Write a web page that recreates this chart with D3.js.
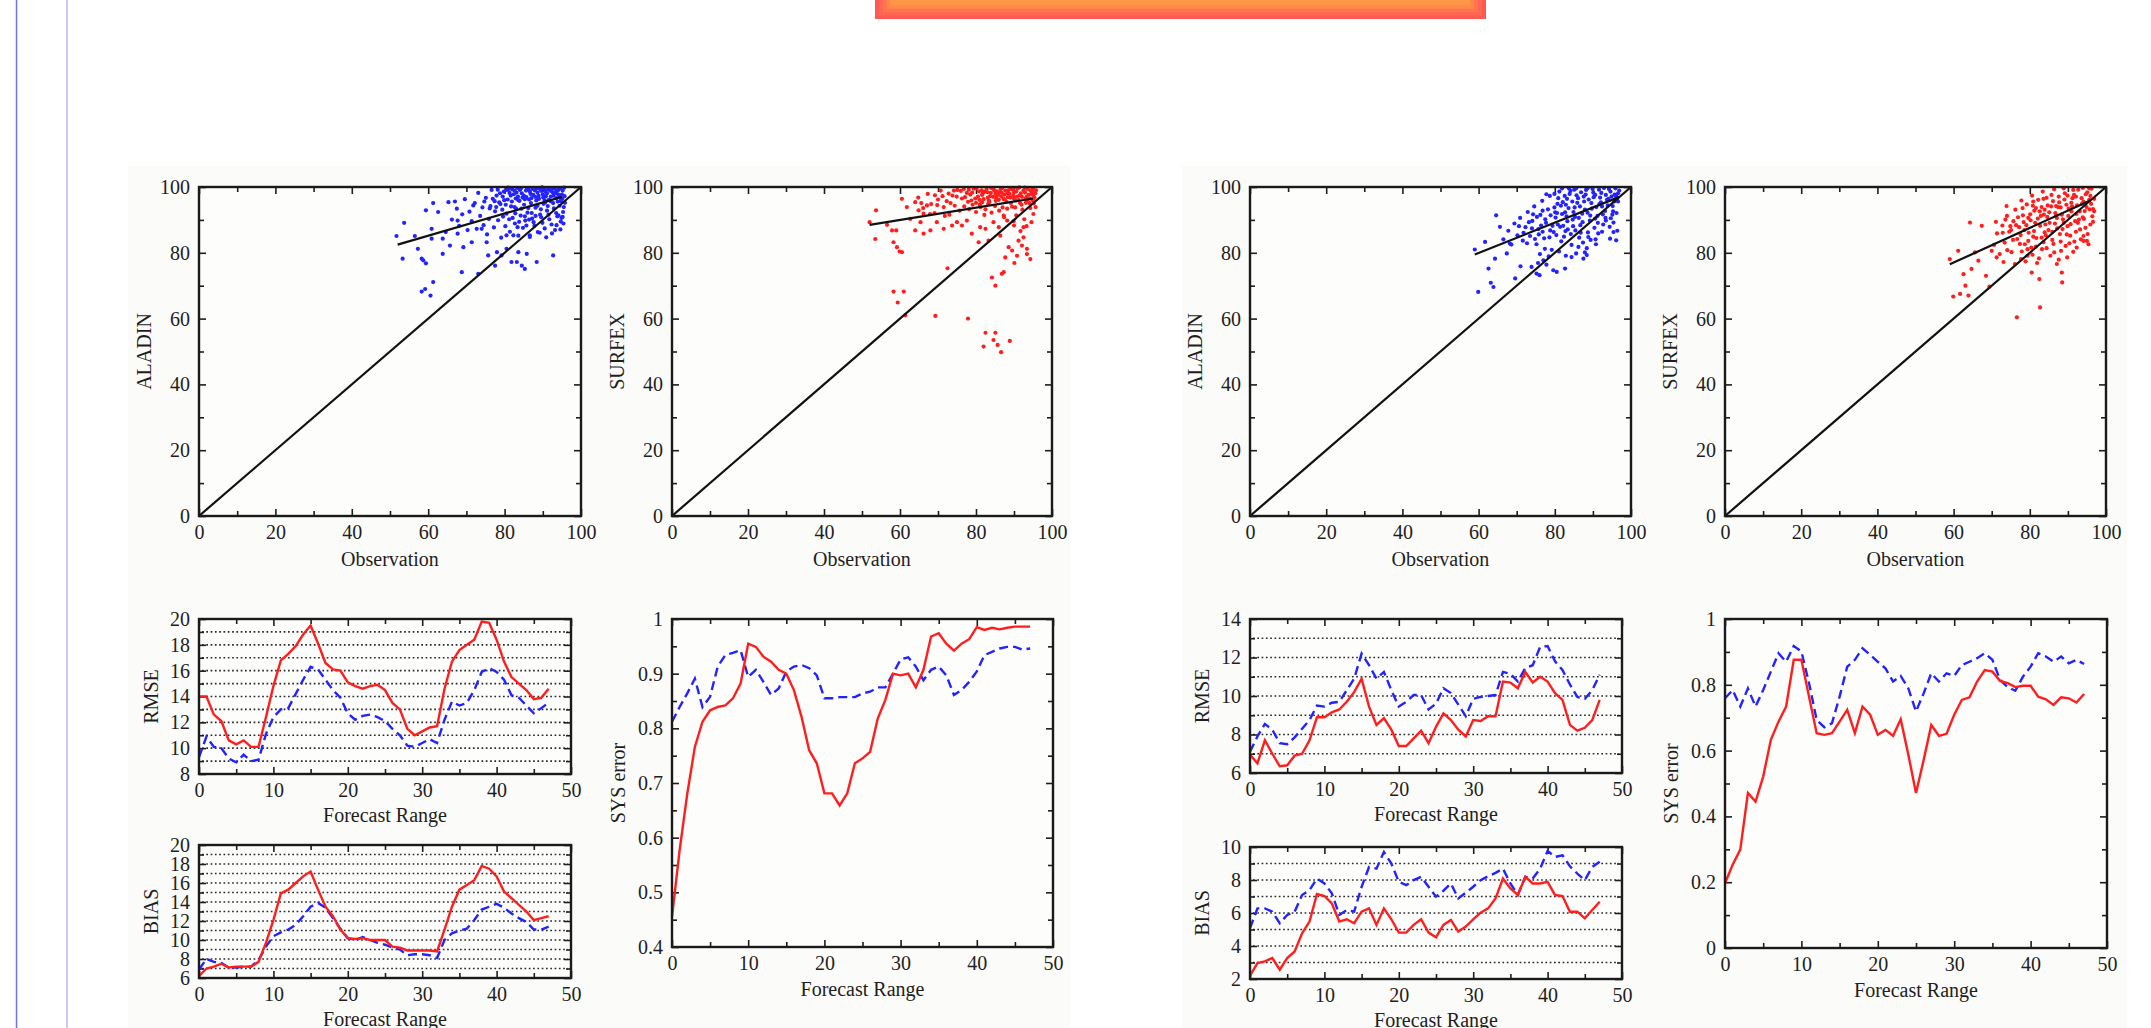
<!DOCTYPE html>
<html>
<head>
<meta charset="utf-8">
<script src="https://cdn.jsdelivr.net/npm/d3@7"></script>
<style>
body { margin: 0; background: #fff; overflow: hidden; }
svg { display: block; }
</style>
</head>
<body>
<script>
// ---- forecast range (hours) ----
const hours = d3.range(48);

// ---- left experiment: scores ----
const rmseLeftRed = [14.0,14.0,12.6,12.1,10.6,10.3,10.6,10.1,10.1,12.4,14.8,16.8,17.3,17.9,18.8,19.5,18.1,16.6,16.1,16.0,15.1,14.8,14.6,14.8,14.9,14.5,13.5,13.0,11.5,11.0,11.3,11.6,11.7,14.6,16.7,17.6,18.0,18.4,19.8,19.7,18.4,16.7,15.5,15.0,14.5,13.8,13.9,14.6];
const rmseLeftBlue = [9.3,10.9,10.1,10.0,9.2,8.9,9.5,9.0,9.1,11.1,12.4,13.0,13.1,14.2,15.3,16.3,16.1,15.3,14.5,13.9,12.7,12.2,12.5,12.6,12.4,12.1,11.5,11.0,10.2,10.1,10.4,10.7,10.4,12.2,13.6,13.3,13.5,14.5,15.9,16.2,15.9,15.3,14.1,13.9,13.3,12.7,13.1,13.5];
const biasLeftRed = [6.2,7.0,7.2,7.5,7.1,7.2,7.2,7.2,7.7,9.7,12.1,14.9,15.3,16.0,16.7,17.2,15.3,13.5,12.5,11.1,10.2,10.1,10.2,10.0,10.0,10.0,9.3,9.2,8.9,8.9,8.9,8.9,8.8,11.1,13.5,15.3,15.8,16.3,17.8,17.5,16.7,15.1,14.4,13.7,13.0,12.1,12.3,12.5];
const biasLeftBlue = [6.9,8.0,7.7,7.6,7.1,7.1,7.2,7.2,7.9,9.3,10.4,10.8,11.1,11.6,12.5,13.5,13.9,13.4,12.3,11.2,10.2,10.0,10.3,10.0,9.7,9.5,9.2,9.0,8.4,8.5,8.5,8.4,8.1,10.0,10.7,11.0,11.2,12.1,13.2,13.5,13.8,13.4,12.8,12.3,11.9,11.1,11.1,11.4];
const sysLeftRed = [0.455,0.577,0.68,0.766,0.812,0.833,0.839,0.842,0.855,0.882,0.955,0.949,0.931,0.922,0.907,0.900,0.870,0.821,0.760,0.736,0.681,0.681,0.659,0.681,0.736,0.745,0.757,0.818,0.852,0.900,0.897,0.900,0.875,0.907,0.968,0.974,0.955,0.942,0.955,0.963,0.985,0.980,0.984,0.981,0.984,0.986,0.986,0.986];
const sysLeftBlue = [0.812,0.839,0.864,0.891,0.839,0.858,0.913,0.934,0.938,0.943,0.894,0.907,0.885,0.861,0.873,0.904,0.913,0.916,0.910,0.897,0.855,0.855,0.857,0.857,0.857,0.864,0.867,0.875,0.875,0.900,0.926,0.930,0.913,0.888,0.907,0.913,0.897,0.861,0.870,0.885,0.904,0.934,0.940,0.946,0.949,0.949,0.944,0.946];

// ---- right experiment: scores ----
const rmseRightRed = [6.95,6.5,7.7,7.0,6.35,6.4,6.9,7.0,7.7,8.9,8.9,9.15,9.3,9.7,10.2,10.9,9.45,8.5,8.85,8.25,7.4,7.4,7.8,8.2,7.55,8.4,9.1,8.75,8.25,7.9,8.75,8.7,8.95,8.95,10.75,10.7,10.4,11.25,10.7,11.0,10.75,10.15,9.8,8.5,8.2,8.35,8.75,9.8];
const rmseRightBlue = [7.1,7.9,8.55,8.25,7.55,7.5,7.85,8.3,8.75,9.5,9.45,9.65,9.7,10.3,10.9,12.2,11.6,10.9,11.25,10.3,9.45,9.7,10.05,10.05,9.3,9.6,10.4,10.15,9.55,8.95,9.85,9.95,10.0,10.05,11.25,11.15,10.75,11.45,11.6,12.55,12.6,11.8,11.35,10.6,9.95,9.85,10.3,11.1];
const biasRightRed = [2.2,2.96,3.07,3.27,2.56,3.27,3.67,4.77,5.48,7.15,7.03,6.58,5.48,5.62,5.38,6.08,6.28,5.28,6.28,5.62,4.81,4.81,5.28,5.62,4.81,4.53,5.28,5.58,4.87,5.18,5.62,6.02,6.28,6.88,8.09,7.49,7.09,8.19,7.79,7.79,7.89,7.09,7.03,6.08,6.08,5.68,6.18,6.68];
const biasRightBlue = [5.08,6.28,6.28,6.08,5.38,5.88,6.08,7.09,7.39,8.09,7.79,7.19,5.88,6.18,6.08,7.59,8.79,8.69,9.70,8.99,7.89,7.69,7.99,8.19,7.59,6.99,7.35,7.79,6.88,7.23,7.59,7.99,8.23,8.43,8.69,7.79,7.09,8.19,8.09,8.69,9.76,9.40,9.50,8.83,8.39,7.99,8.79,9.10];
const sysRightRed = [0.197,0.253,0.299,0.471,0.445,0.521,0.633,0.688,0.734,0.876,0.876,0.764,0.653,0.648,0.653,0.688,0.724,0.653,0.734,0.709,0.648,0.663,0.645,0.695,0.587,0.471,0.571,0.678,0.645,0.651,0.709,0.754,0.762,0.810,0.845,0.840,0.812,0.805,0.793,0.797,0.797,0.764,0.756,0.739,0.762,0.759,0.746,0.772];
const sysRightBlue = [0.759,0.784,0.734,0.789,0.734,0.784,0.840,0.896,0.870,0.918,0.901,0.805,0.693,0.671,0.683,0.764,0.855,0.876,0.911,0.891,0.870,0.850,0.810,0.827,0.789,0.719,0.774,0.835,0.810,0.835,0.827,0.860,0.870,0.881,0.896,0.876,0.815,0.793,0.782,0.825,0.855,0.896,0.886,0.870,0.886,0.865,0.876,0.863];

// ---- scatter points [observation, model] ----
const aladinLeft = [
  [51.7,85.1],[53.3,78.2],[53.7,89.1],[56.5,85.1],[57.3,81.2],[58.3,78.2],[58.7,77.7],[58.3,68.2],[59.2,69.0],[60.6,67.0],
  [61.3,71.1],[59.4,76.8],[59.4,92.9],[61.3,95.1],[62.6,92.4],[60.9,87.3],[60.9,84.3],[63.8,84.3],[63.8,79.7],[64.6,86.3],
  [65.7,82.2],[65.3,95.4],[67.0,95.6],[67.7,89.8],[68.8,74.1],[67.7,85.8],[69.2,81.7],[71.4,83.2],[71.8,94.4],[73.1,73.6],
  [74.0,87.3],[75.3,83.2],[75.7,79.2],[77.5,76.1],[78.0,80.2],[79.2,79.2],[80.5,81.2],[81.8,77.2],[83.2,77.2],[84.5,76.1],
  [85.3,75.1],[85.8,79.7],[88.4,77.2],[92.7,79.2],[83.6,80.2],[82.3,85.3],[80.5,85.3],[86.6,85.3],
  [66.2,90.1],[67.5,93.4],[68.1,88.2],[68.9,91.7],[69.6,96.3],[70.3,86.9],[70.8,92.5],[71.4,89.6],[72.2,95.1],[72.7,87.3],
  [73.1,98.2],[73.6,91.2],[74.2,93.8],[74.5,88.4],[75.1,96.7],[75.4,85.6],[75.9,90.3],[76.3,94.2],[76.6,99.1],[77.2,87.7],
  [77.5,92.6],[77.9,97.4],[78.3,89.9],[78.6,95.3],[79.1,84.6],[79.4,93.1],[79.8,98.6],[80.2,88.1],[80.5,91.9],[80.8,96.2],
  [81.1,99.4],[81.4,86.4],[81.7,94.1],[82.1,90.6],[82.4,97.8],[82.7,88.9],[83.0,93.4],[83.3,99.7],[83.6,85.2],[83.9,95.8],
  [84.2,91.3],[84.5,98.1],[84.8,87.6],[85.1,94.6],[85.4,89.8],[85.7,96.9],[86.0,92.2],[86.3,99.2],[86.6,84.8],[86.9,95.1],
  [87.2,90.4],[87.5,97.6],[87.8,88.2],[88.1,93.7],[88.4,99.6],[88.7,86.3],[89.0,96.4],[89.3,91.6],[89.6,98.8],[89.9,89.1],
  [90.2,94.9],[90.5,87.4],[90.8,97.2],[91.1,92.8],[91.4,99.3],[91.7,90.2],[92.0,95.7],[92.3,88.6],[92.6,98.4],[92.9,93.5],
  [93.2,86.9],[93.5,96.6],[93.8,91.1],[94.1,99.1],[94.4,94.3],[94.7,89.5],[95.0,97.7],[95.3,92.4],[95.6,99.8],[95.8,95.2],
  [79.5,97.1],[80.9,99.8],[82.9,96.5],[84.0,99.1],[85.6,98.9],[86.8,97.9],[87.9,99.0],[88.9,97.3],[89.8,99.9],[90.7,98.6],
  [91.6,96.1],[92.5,99.7],[93.4,98.2],[94.3,97.3],[95.2,98.9],[93.9,95.6],[92.1,97.1],[90.1,96.8],[88.3,95.9],[86.4,96.2],
  [84.7,96.8],[83.1,98.3],[81.6,97.4],[78.2,99.2],[76.9,96.4],[91.3,94.2],[89.5,93.2],[87.1,92.1],[85.3,91.1],[83.8,89.4],
  [95.5,93.9],[94.9,90.6],[93.6,88.4],[92.4,85.9],[90.9,84.7],[89.2,86.1],[94.6,87.1],[95.4,88.9],
  [78.8,98.1],[79.9,96.0],[80.6,99.1],[81.3,98.2],[82.0,99.3],[82.6,98.9],[83.5,97.1],[84.3,99.6],[85.0,97.4],[85.9,99.6],
  [86.6,98.6],[87.3,99.4],[88.0,97.0],[88.6,98.3],[89.3,99.3],[90.0,97.8],[90.4,99.5],[91.1,98.1],[91.9,99.0],[92.8,97.4],
  [93.1,99.5],[93.7,98.9],[94.5,99.6],[94.8,96.2],[95.7,97.2],[95.1,96.4],[94.0,97.8],[92.2,98.8],[90.5,96.0],[88.7,96.6],
  [87.0,96.6],[85.3,96.3],[83.6,96.0],[81.9,95.6],[80.3,94.6],[78.9,94.8],[77.4,95.7],[82.6,93.9],[84.4,93.4],[86.2,93.6],
  [88.6,94.3],[90.6,95.3],[92.7,95.1],[94.7,95.7],[93.5,92.1],[91.5,91.6],[89.6,90.8],[87.6,89.3],[85.7,88.3],[83.4,87.8],
  [95.2,90.9],[94.1,91.4],[88.1,91.2],[86.4,90.1],[81.2,90.2],[79.6,91.0],[76.1,93.5],[74.7,95.6],[77.8,93.9],[82.8,92.0]
];
const surfexLeft = [
  [52.0,89.3],[53.5,84.2],[53.7,92.9],[56.6,88.5],[57.9,86.8],[59.0,86.8],[58.3,83.2],[59.2,81.7],[59.9,80.4],[60.5,80.2],
  [58.3,68.2],[59.4,64.9],[61.0,68.2],[61.4,61.0],[69.3,60.8],[72.5,75.3],[77.9,60.0],[82.5,55.7],[82.0,51.5],[85.1,55.7],
  [84.6,53.5],[85.7,52.0],[86.6,49.8],[88.9,53.2],[84.2,72.5],[85.1,70.0],[86.8,73.6],[87.3,74.1],[87.7,78.6],[89.5,80.7],
  [90.1,76.9],[90.8,79.1],[92.1,82.2],[93.4,81.2],[94.3,78.1],[93.4,79.6],[92.5,84.7],[92.5,87.8],[91.2,83.7],[88.6,81.7],
  [86.4,85.2],[83.3,83.7],[81.1,87.8],[82.5,87.3],[78.9,85.8],[80.7,83.2],[84.6,89.3],[86.0,87.8],[88.2,89.8],[87.3,91.3],
  [90.0,88.3],[75.0,89.3],[73.7,88.3],[71.5,87.3],[69.7,89.3],[68.0,86.8],[66.2,85.8],[64.0,86.8],[65.4,89.3],[62.7,90.3],
  [61.8,93.9],[60.5,96.4],[64.0,95.4],[67.1,94.4],[66.2,91.9],[64.9,92.9],[76.3,88.3],[77.6,89.8],
  [64.8,96.8],[66.1,93.6],[67.3,97.9],[68.2,94.8],[69.1,92.1],[70.0,96.2],[70.7,98.9],[71.5,93.9],[72.3,95.7],[73.0,91.6],
  [73.8,97.4],[74.4,94.3],[75.1,99.1],[75.7,92.8],[76.3,96.5],[76.9,94.1],[77.6,98.2],[78.2,93.3],[78.8,95.9],[79.4,99.5],
  [80.0,92.4],[80.5,97.1],[81.0,94.7],[81.5,99.0],[82.0,96.3],[82.5,93.2],[83.0,98.4],[83.5,95.4],[84.0,99.7],[84.5,97.0],
  [85.0,94.2],[85.5,98.7],[86.0,96.1],[86.5,99.3],[87.0,93.8],[87.5,97.7],[88.0,95.5],[88.5,99.0],[89.0,96.8],[89.5,94.0],
  [90.0,98.3],[90.5,95.9],[91.0,99.6],[91.5,97.4],[92.0,94.6],[92.5,98.9],[93.0,96.4],[93.5,99.4],[94.0,95.1],[94.5,97.9],
  [95.0,99.5],[95.4,96.7],[95.7,93.9],[81.8,98.1],[83.7,97.2],[85.8,97.6],[87.7,98.9],[89.7,99.2],[91.8,98.1],[93.8,97.6],
  [94.8,98.6],[92.8,99.8],[90.8,97.1],[88.8,97.9],[86.8,98.2],[84.8,98.9],[82.8,99.4],[80.8,98.7],[79.8,96.5],[78.5,97.7],
  [77.1,96.9],[74.9,97.1],[72.8,98.0],[76.0,98.8],[94.2,96.5],[95.6,98.1],[93.1,95.2],[91.2,96.0],[89.2,95.1],[87.3,96.3],
  [85.2,95.8],[83.2,94.9],[81.2,93.9],[79.1,94.6],[95.2,95.0],[94.3,93.6],[92.2,93.1],[90.3,93.8],[88.2,93.4],[86.1,92.8],
  [84.1,92.2],[82.2,91.5],[71.8,91.2],[69.8,94.5],[67.9,91.8],[65.6,95.1],
  [90.6,91.4],[92.7,90.2],[94.6,89.3],[95.1,91.8],[93.3,88.1],[91.7,86.6],[89.9,89.6],[87.4,90.8],
  [78.1,99.2],[79.0,98.3],[80.1,99.6],[80.9,96.1],[81.6,97.6],[82.3,98.6],[83.1,96.8],[83.9,98.2],[84.6,99.4],[85.3,96.7],
  [86.1,98.3],[86.9,99.7],[87.6,96.2],[88.3,98.1],[89.1,99.4],[89.8,97.3],[90.6,98.7],[91.4,99.9],[92.1,97.0],[92.9,98.3],
  [93.6,96.1],[94.3,99.0],[95.1,97.4],[95.8,99.0],[94.9,96.0],[93.3,97.0],[91.6,95.1],[90.0,96.4],[88.4,96.9],[86.7,97.1],
  [85.1,97.9],[83.4,95.9],[81.6,95.3],[80.0,95.2],[77.9,95.5],[76.8,99.4],[74.2,98.9],[73.3,95.1],[71.2,97.2],[69.2,97.5]
];
const aladinRight = [
  [59.0,81.0],[59.9,68.1],[61.7,83.3],[62.6,75.2],[63.2,70.9],[63.9,69.6],[64.3,78.2],[64.6,91.4],[65.6,87.9],[67.4,79.8],
  [68.2,82.8],[69.6,72.2],[71.0,75.9],[73.9,75.7],[75.2,73.7],[76.0,73.2],[77.0,77.7],[79.6,74.7],[80.5,74.2],[82.7,75.2],
  [84.4,78.7],[87.5,78.2],[88.4,79.3],[94.5,84.3],[95.4,86.3],[96.1,83.8],
  [66.5,84.1],[67.8,86.7],[68.6,82.5],[69.4,88.9],[70.2,85.3],[70.9,90.6],[71.6,83.7],[72.3,87.8],[72.9,92.4],[73.5,85.1],
  [74.1,89.7],[74.6,94.1],[75.2,82.6],[75.7,87.2],[76.2,91.5],[76.7,95.8],[77.2,84.4],[77.7,89.1],[78.2,93.2],[78.7,97.3],
  [79.2,80.9],[79.7,86.3],[80.2,90.7],[80.7,94.9],[81.2,98.6],[81.7,83.5],[82.2,88.2],[82.7,92.3],[83.2,96.4],[83.7,99.6],
  [84.2,85.7],[84.7,90.1],[85.2,93.8],[85.7,97.5],[86.2,81.8],[86.7,88.4],[87.2,91.9],[87.7,95.6],[88.2,99.1],[88.7,86.2],
  [89.2,89.8],[89.7,93.4],[90.2,96.9],[90.7,84.1],[91.2,91.2],[91.7,94.8],[92.2,98.2],[92.7,88.6],[93.2,92.7],[93.7,96.1],
  [94.2,99.4],[94.7,90.5],[95.2,94.2],[95.7,97.7],[96.2,92.1],[96.6,95.6],[96.9,98.9],
  [78.9,91.4],[79.9,93.8],[80.9,96.6],[81.9,91.8],[82.9,94.6],[83.9,97.9],[84.9,92.4],[85.9,95.2],[86.9,98.4],[87.9,93.1],
  [88.9,96.2],[89.9,99.4],[90.9,93.9],[91.9,96.8],[92.9,99.7],[93.9,94.4],[94.9,97.1],[95.9,99.6],[77.5,90.2],[76.4,88.3],
  [75.3,90.9],[74.3,91.7],[73.2,89.3],[79.4,88.2],[80.4,85.4],[81.4,87.9],[82.4,84.9],[83.4,87.1],[84.4,82.4],[85.4,86.8],
  [86.4,84.6],[87.4,83.1],[88.4,81.4],[89.4,83.9],[90.4,87.6],[91.4,85.9],[92.4,86.4],[93.4,89.8],[94.4,87.9],[95.4,89.2],
  [96.4,86.7],[81.1,80.4],[82.9,79.1],[78.4,78.9],[77.4,81.2],[76.1,79.6],[75.6,76.9],[77.8,76.4],[85.6,79.8],[87.9,80.1],
  [80.1,92.3],[82.1,95.4],[84.1,98.8],[86.1,96.6],[88.1,97.7],[90.1,98.3],[92.1,95.3],[94.1,96.4],[96.1,97.2],[85.1,99.2],
  [83.1,91.1],[86.3,90.6],[88.6,92.2],[90.6,90.4],[92.6,91.7],[95.1,91.6],[76.8,86.4],[78.6,84.7],[74.8,84.2],[72.7,82.9],
  [80.6,92.1],[81.6,94.3],[82.6,97.3],[83.6,93.6],[84.6,95.6],[85.6,99.6],[86.6,94.1],[87.6,97.1],[88.6,99.6],[89.6,95.1],
  [90.6,97.6],[91.6,99.2],[92.4,94.1],[93.4,97.6],[94.6,98.6],[95.6,95.6],[96.6,98.1],[83.3,89.6],[85.3,90.9],[87.3,89.3],
  [89.3,91.3],[91.3,89.1],[93.3,90.6],[95.3,92.6],[96.3,96.3],[84.8,88.1],[86.8,86.1],[88.8,84.8],[90.8,82.6],[82.8,86.6],
  [80.8,88.6],[78.8,86.8],[76.8,92.8],[75.8,85.6],[74.0,87.4],[71.8,86.1],[70.6,88.1],[79.9,97.9],[81.9,99.6],[77.8,97.8]
];
const surfexRight = [
  [59.0,78.1],[59.9,66.7],[61.2,80.6],[61.7,67.5],[62.6,73.5],[63.1,70.0],[63.9,67.0],[64.3,89.2],[64.7,75.1],[65.6,80.1],
  [66.5,77.6],[67.4,88.2],[68.5,73.0],[69.4,69.7],[70.0,80.6],[71.3,78.6],[76.6,60.4],[82.7,63.4],[80.5,74.0],[82.5,72.0],
  [88.5,71.0],[88.4,74.0],[87.1,76.6],[89.8,78.6],[94.1,83.6],[95.0,83.6],[92.3,81.6],
  [70.6,82.4],[71.4,85.9],[72.1,79.6],[72.8,88.3],[73.4,83.1],[74.0,91.2],[74.6,86.4],[75.2,80.2],[75.7,89.6],[76.2,93.1],
  [76.7,84.2],[77.2,87.8],[77.7,78.1],[78.2,91.4],[78.7,82.6],[79.2,94.7],[79.7,86.1],[80.2,89.9],[80.7,79.4],[81.2,92.8],
  [81.7,84.5],[82.2,96.1],[82.7,88.2],[83.2,81.1],[83.7,91.6],[84.2,85.3],[84.7,94.4],[85.2,89.1],[85.7,97.6],[86.2,82.7],
  [86.7,92.1],[87.2,87.4],[87.7,95.3],[88.2,80.6],[88.7,90.2],[89.2,98.1],[89.7,85.6],[90.2,93.4],[90.7,88.7],[91.2,96.6],
  [91.7,83.4],[92.2,91.8],[92.7,99.2],[93.2,87.1],[93.7,94.9],[94.2,90.3],[94.7,97.8],[95.2,85.7],[95.7,93.2],[96.2,99.5],
  [96.6,89.4],[96.9,96.4],
  [79.1,88.4],[80.1,91.7],[81.1,86.6],[82.1,90.4],[83.1,93.9],[84.1,88.6],[85.1,92.3],[86.1,95.7],[87.1,90.6],[88.1,93.8],
  [89.1,96.2],[90.1,91.2],[91.1,94.1],[92.1,97.1],[93.1,92.6],[94.1,95.6],[95.1,98.4],[96.1,94.9],[84.6,90.9],[86.6,88.9],
  [88.6,87.2],[90.6,85.2],[92.6,89.1],[94.6,87.6],[96.4,91.1],[83.6,83.2],[81.6,81.9],[79.6,83.6],[77.6,85.4],[75.6,83.9],
  [74.1,80.8],[73.1,77.2],[76.1,76.6],[78.9,77.4],[82.4,78.3],[85.4,79.1],[87.6,77.9],[89.4,82.1],[91.4,80.3],[93.4,84.1],
  [95.4,82.6],[76.9,90.8],[74.9,88.1],[72.9,86.1],[71.1,89.4],[73.9,94.2],[77.8,95.9],[80.6,97.4],[83.4,98.6],[86.4,99.3],
  [88.9,99.6],[91.4,99.1],[93.9,99.7],[95.6,96.1],
  [78.4,89.3],[80.8,94.3],[82.6,92.6],[84.4,96.7],[86.9,94.2],[88.4,91.6],[90.9,95.2],[92.4,94.4],[94.4,92.7],[95.9,97.3],
  [87.9,85.7],[85.9,86.4],[83.9,86.2],[81.4,89.1],[79.4,81.1],[77.4,82.7],[89.9,88.1],[91.9,89.6],[93.9,90.8],[96.6,93.3],
  [79.6,90.6],[81.6,93.6],[83.6,96.4],[85.6,94.1],[87.6,97.1],[89.6,94.6],[91.6,97.6],[93.6,96.6],[95.6,99.6],[82.9,91.2],
  [84.9,86.9],[86.9,91.4],[88.9,89.1],[90.9,92.6],[92.9,90.1],[94.9,93.9],[96.9,92.6],[80.9,84.9],[78.6,86.9],[76.4,88.4],
  [75.1,86.9],[73.6,90.1],[77.9,80.4],[80.4,81.6],[83.1,84.6],[85.9,83.9],[88.1,83.4],[90.4,82.9],[92.1,86.4],[94.1,85.1],
  [95.9,88.6],[84.4,81.4],[86.4,80.1],[81.9,76.9],[79.4,79.1],[78.1,93.6],[80.9,95.6],[83.9,93.1],[87.4,93.9],[89.9,97.4]
];

// ---- regression lines [[obs, model], [obs, model]] ----
const fitAladinLeft = [[52, 82.5], [95, 97]];
const fitSurfexLeft = [[52, 88.5], [95, 96.5]];
const fitAladinRight = [[59, 79.5], [97, 97]];
const fitSurfexRight = [[59, 76.5], [96, 96]];
const diagonal = [[0, 0], [100, 100]];

// ---- tick values ----
const scatterMajor = [0, 20, 40, 60, 80, 100];
const scatterMinor = [10, 30, 50, 70, 90];
const rangeMajor = [0, 10, 20, 30, 40, 50];
const rangeMinor = [5, 15, 25, 35, 45];
const sysLeftMajor = [0.4, 0.5, 0.6, 0.7, 0.8, 0.9, 1];
const sysLeftMinor = [0.45, 0.55, 0.65, 0.75, 0.85, 0.95];
const sysRightMajor = [0, 0.2, 0.4, 0.6, 0.8, 1];
const sysRightMinor = [0.1, 0.3, 0.5, 0.7, 0.9];

const W = 2151, H = 1028;
const FONT = "'Liberation Serif', 'Times New Roman', serif";
const RED = "#ff1e1e", BLUE = "#2323ff";

const svg = d3.select("body").append("svg")
    .attr("width", W)
    .attr("height", H);

// page decoration: margin lines, banner, figure backgrounds
svg.append("line").attr("x1", 16.5).attr("x2", 16.5).attr("y1", 0).attr("y2", H)
    .attr("stroke", "#6f6ff0").attr("stroke-width", 1.5);
svg.append("line").attr("x1", 67).attr("x2", 67).attr("y1", 0).attr("y2", H)
    .attr("stroke", "#b6b6ff").attr("stroke-width", 1.5);

let bannerColors = ["#ff5a52", "#ff6752", "#ff764e", "#ff874a", "#ff9846"];
bannerColors.forEach(function(c, i) {
    svg.append("rect")
        .attr("x", 875 + i * 4)
        .attr("y", 0)
        .attr("width", 611 - i * 8)
        .attr("height", 19 - i * 3.4)
        .attr("fill", c);
});

[[128, 1070], [1182, 2127]].forEach(function(p) {
    svg.append("rect")
        .attr("x", p[0]).attr("y", 166)
        .attr("width", p[1] - p[0]).attr("height", H - 166)
        .attr("fill", "#fbfbf9");
});

function styleAxis(sel) {
    sel.select(".domain").remove();
    sel.selectAll(".tick line").attr("stroke", "#1e1e1e").attr("stroke-width", 1.6);
    sel.selectAll("text")
        .attr("fill", "#1e1e1e")
        .style("font-family", FONT)
        .style("font-size", "20px");
}

// one framed panel with inward ticks on all four sides
function panel(box, xDom, yDom, spec) {
    const x = d3.scaleLinear().domain(xDom).range([box.x0, box.x1]);
    const y = d3.scaleLinear().domain(yDom).range([box.y1, box.y0]);
    const g = svg.append("g");

    g.append("rect")
        .attr("x", box.x0).attr("y", box.y0)
        .attr("width", box.x1 - box.x0).attr("height", box.y1 - box.y0)
        .attr("fill", "#fdfdfc");

    if (spec.grid) {
        g.append("g").selectAll("line").data(spec.grid).join("line")
            .attr("x1", box.x0 + 3).attr("x2", box.x1 - 3)
            .attr("y1", d => y(d)).attr("y2", d => y(d))
            .attr("stroke", "#2a2a2a")
            .attr("stroke-width", 1.7)
            .attr("stroke-dasharray", "1.7,2.6");
    }

    const sides = [
        [d3.axisBottom(x), `translate(0,${box.y1})`, spec.xMajor, spec.xMinor, spec.xFmt],
        [d3.axisTop(x), `translate(0,${box.y0})`, spec.xMajor, spec.xMinor, null],
        [d3.axisLeft(y), `translate(${box.x0},0)`, spec.yMajor, spec.yMinor, spec.yFmt],
        [d3.axisRight(y), `translate(${box.x1},0)`, spec.yMajor, spec.yMinor, null]
    ];
    sides.forEach(function(s) {
        const major = s[0].tickValues(s[2]).tickSize(-7).tickPadding(9)
            .tickFormat(s[4] ? s[4] : () => "");
        g.append("g").attr("transform", s[1]).call(major).call(styleAxis);
        const minor = s[0].tickValues(s[3]).tickSize(-5).tickFormat(() => "");
        g.append("g").attr("transform", s[1]).call(minor).call(styleAxis);
    });

    // axis titles
    g.append("text")
        .attr("x", (box.x0 + box.x1) / 2)
        .attr("y", box.y1 + spec.xTitleOff)
        .attr("text-anchor", "middle")
        .attr("fill", "#1e1e1e")
        .style("font-family", FONT)
        .style("font-size", "20px")
        .text(spec.xTitle);
    g.append("text")
        .attr("transform", `translate(${box.x0 - spec.yTitleOff},${(box.y0 + box.y1) / 2}) rotate(-90)`)
        .attr("text-anchor", "middle")
        .attr("fill", "#1e1e1e")
        .style("font-family", FONT)
        .style("font-size", "20px")
        .text(spec.yTitle);

    return {g: g, x: x, y: y, box: box};
}

function frameOnTop(p) {
    p.g.append("rect")
        .attr("x", p.box.x0).attr("y", p.box.y0)
        .attr("width", p.box.x1 - p.box.x0).attr("height", p.box.y1 - p.box.y0)
        .attr("fill", "none")
        .attr("stroke", "#1a1a1a")
        .attr("stroke-width", 2.4);
}

function scatterPanel(box, points, fit, color, yTitle) {
    const p = panel(box, [0, 100], [0, 100], {
        xMajor: scatterMajor, xMinor: scatterMinor, xFmt: d3.format("d"),
        yMajor: scatterMajor, yMinor: scatterMinor, yFmt: d3.format("d"),
        xTitle: "Observation", yTitle: yTitle, xTitleOff: 50, yTitleOff: 48
    });
    p.g.append("g").selectAll("circle").data(points).join("circle")
        .attr("cx", d => p.x(d[0]))
        .attr("cy", d => p.y(d[1]))
        .attr("r", 2.1)
        .attr("fill", color);
    const line = d3.line().x(d => p.x(d[0])).y(d => p.y(d[1]));
    [diagonal, fit].forEach(function(l) {
        p.g.append("path").attr("d", line(l))
            .attr("fill", "none").attr("stroke", "#111").attr("stroke-width", 2.2);
    });
    frameOnTop(p);
}

function scorePanel(box, yDom, spec, red, blue) {
    const p = panel(box, [0, 50], yDom, spec);
    const line = d3.line().x((d, i) => p.x(hours[i])).y(d => p.y(d));
    p.g.append("path").attr("d", line(blue))
        .attr("fill", "none").attr("stroke", BLUE).attr("stroke-width", 2.4)
        .attr("stroke-dasharray", "9,5");
    p.g.append("path").attr("d", line(red))
        .attr("fill", "none").attr("stroke", RED).attr("stroke-width", 2.4);
    frameOnTop(p);
}

const fmtInt = d3.format("d");
const fmtSys = d => String(+d.toFixed(2));

function smallSpec(yMin, yMax, yTitle) {
    return {
        xMajor: rangeMajor, xMinor: rangeMinor, xFmt: fmtInt,
        yMajor: d3.range(yMin, yMax + 1, 2), yMinor: d3.range(yMin + 1, yMax, 2), yFmt: fmtInt,
        grid: d3.range(yMin + 1, yMax),
        xTitle: "Forecast Range", yTitle: yTitle, xTitleOff: 48, yTitleOff: 41
    };
}

// ---- left experiment ----
scatterPanel({x0: 199, x1: 581, y0: 187, y1: 516}, aladinLeft, fitAladinLeft, BLUE, "ALADIN");
scatterPanel({x0: 672, x1: 1052, y0: 187, y1: 516}, surfexLeft, fitSurfexLeft, RED, "SURFEX");
scorePanel({x0: 199, x1: 571, y0: 619, y1: 774}, [8, 20], smallSpec(8, 20, "RMSE"), rmseLeftRed, rmseLeftBlue);
scorePanel({x0: 199, x1: 571, y0: 845, y1: 978}, [6, 20], smallSpec(6, 20, "BIAS"), biasLeftRed, biasLeftBlue);
scorePanel({x0: 672, x1: 1053, y0: 619, y1: 947}, [0.4, 1], {
    xMajor: rangeMajor, xMinor: rangeMinor, xFmt: fmtInt,
    yMajor: sysLeftMajor, yMinor: sysLeftMinor, yFmt: fmtSys,
    xTitle: "Forecast Range", yTitle: "SYS error", xTitleOff: 49, yTitleOff: 47
}, sysLeftRed, sysLeftBlue);

// ---- right experiment ----
scatterPanel({x0: 1250, x1: 1631, y0: 187, y1: 516}, aladinRight, fitAladinRight, BLUE, "ALADIN");
scatterPanel({x0: 1725, x1: 2106, y0: 187, y1: 516}, surfexRight, fitSurfexRight, RED, "SURFEX");
scorePanel({x0: 1250, x1: 1622, y0: 619, y1: 773}, [6, 14], smallSpec(6, 14, "RMSE"), rmseRightRed, rmseRightBlue);
scorePanel({x0: 1250, x1: 1622, y0: 847, y1: 979}, [2, 10], smallSpec(2, 10, "BIAS"), biasRightRed, biasRightBlue);
scorePanel({x0: 1725, x1: 2107, y0: 619, y1: 948}, [0, 1], {
    xMajor: rangeMajor, xMinor: rangeMinor, xFmt: fmtInt,
    yMajor: sysRightMajor, yMinor: sysRightMinor, yFmt: fmtSys,
    xTitle: "Forecast Range", yTitle: "SYS error", xTitleOff: 49, yTitleOff: 47
}, sysRightRed, sysRightBlue);
</script>
</body>
</html>
